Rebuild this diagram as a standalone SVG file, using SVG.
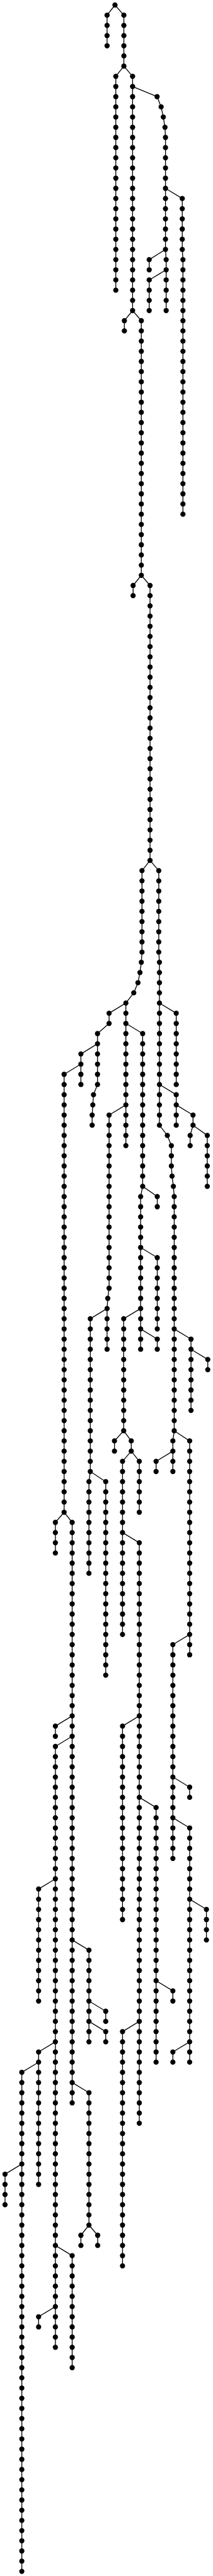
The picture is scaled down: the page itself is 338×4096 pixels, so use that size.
<svg xmlns="http://www.w3.org/2000/svg" width="338" height="4096" viewBox="0 0 338 4096">
<style>
.e path{fill:none;stroke:#000;stroke-width:5;stroke-linejoin:round}
.n{fill:#000}
</style>
<defs><circle id="d" r="15.5"/></defs>
<rect width="338" height="4096" fill="#fff"/>
<g transform="scale(0.26633) translate(0 30)">
<g id="connectors" class="e">
<path d="M685 0L638 60.8V243.2"/>
<path d="M685 0L738 60.8V364.8"/>
<path d="M738 364.8L690 425.6V1702.4"/>
<path d="M738 364.8L790 425.6V1824"/>
<path d="M790 486.4L936 547.2L960 608L973 668.8L983 729.6L986 790.4V1459.2L990 1520V1824"/>
<path d="M986 1094.4L1086 1155.2V1459.2L1090 1520V3040"/>
<path d="M986 1459.2L889 1520V1580.8"/>
<path d="M990 1580.8L889 1641.6V1824"/>
<path d="M790 1824L741 1884.8V1945.6"/>
<path d="M790 1824L842 1884.8V3404.8"/>
<path d="M842 3404.8L793 3465.6V3526.4"/>
<path d="M842 3404.8L894 3465.6V5107.2"/>
<path d="M894 5107.2L846 5168V5654.4L842 5715.2L834 5776L822 5836.8L797 5897.6L750 5958.4V6809.6"/>
<path d="M894 5107.2L946 5168V5654.4L950 5715.2V6688L997 6748.8L1021 6809.6V6931.2L1025 6992L1033 7052.8L1038 7113.6V8512L1030 8572.8V8755.2"/>
<path d="M750 5958.4L650 6019.2V6080L581 6140.8V6444.8L557 6505.6L553 6566.4L549 6627.2V6688"/>
<path d="M581 6201.6L482 6262.4V6444.8"/>
<path d="M482 6323.2L382 6384V8998.4"/>
<path d="M750 6080L850 6140.8V7052.8"/>
<path d="M850 7052.8L937 7113.6V7174.4"/>
<path d="M850 7052.8L838 7113.6V8025.6"/>
<path d="M838 7417.6L937 7478.4V7904"/>
<path d="M838 7904L937 7964.8V8025.6"/>
<path d="M950 5958.4L1050 6019.2V6444.8"/>
<path d="M950 6444.8L1050 6505.6V6688"/>
<path d="M1050 6566.4L1150 6627.2V6688"/>
<path d="M1150 6688L1133 6748.8V6809.6"/>
<path d="M1150 6688L1235 6748.8V7052.8"/>
<path d="M750 6566.4L650 6627.2V7660.8L642 7721.6L638 7782.4V8025.6"/>
<path d="M638 7782.4L538 7843.2V8755.2L530 8816V9363.2"/>
<path d="M538 8755.2L630 8816V9971.2"/>
<path d="M838 7782.4L737 7843.2V8512"/>
<path d="M737 8512L682 8572.8V8633.6"/>
<path d="M737 8512L782 8572.8V8633.6"/>
<path d="M782 8633.6L730 8694.4V9728"/>
<path d="M782 8633.6L830 8694.4V8998.4"/>
<path d="M730 9120L830 9180.8V12646.4"/>
<path d="M830 10214.4L730 10275.2V11430.4"/>
<path d="M830 10700.8L930 10761.6V12281.6"/>
<path d="M930 11795.2L1030 11856V11916.8"/>
<path d="M830 12038.4L730 12099.2V13497.6"/>
<path d="M1030 8633.6L930 8694.4V8755.2"/>
<path d="M1038 8512L1130 8572.8V9849.6"/>
<path d="M1130 9728L1030 9788.8V11065.6"/>
<path d="M1030 10579.2L1130 10640V10700.8"/>
<path d="M1030 10822.4L1130 10883.2V12281.6"/>
<path d="M1130 11308.8L1230 11369.6V11552"/>
<path d="M1130 12160L1030 12220.8V12281.6"/>
<path d="M1038 7904L1138 7964.8V8390.4"/>
<path d="M1138 8025.6L1238 8086.4V8147.2"/>
<path d="M382 8998.4L330 9059.2V9241.6"/>
<path d="M382 8998.4L430 9059.2V12524.8"/>
<path d="M430 10214.4L330 10275.2V10336"/>
<path d="M430 10336L330 10396.8V13984"/>
<path d="M330 11187.2L230 11248V11916.8"/>
<path d="M330 12160L230 12220.8V13011.2"/>
<path d="M230 12281.6L130 12342.4V15321.6"/>
<path d="M130 12889.6L30 12950.4V13132.8"/>
<path d="M330 13376L430 13436.8V14105.6"/>
<path d="M330 13740.8L230 13801.6V13862.4"/>
<path d="M430 11552L530 11612.8V12160"/>
<path d="M530 11916.8L630 11977.6V12038.4"/>
<path d="M530 12038.4L630 12099.2V12160"/>
<path d="M430 12403.2L530 12464V13254.4"/>
<path d="M530 13254.4L482 13315.2V13376"/>
<path d="M530 13254.4L582 13315.2V13376"/>
</g>
<g id="nodes" class="n">
<g id="root"><use href="#d" x="685" y="0"/></g>
<g id="c1" transform="translate(638 60.8)"><use href="#d"/><use href="#d" y="60.8"/><use href="#d" y="121.6"/><use href="#d" y="182.4"/></g>
<g id="c2" transform="translate(738 60.8)"><use href="#d"/><use href="#d" y="60.8"/><use href="#d" y="121.6"/><use href="#d" y="182.4"/><use href="#d" y="243.2"/><use href="#d" y="304"/></g>
<g id="c3" transform="translate(690 425.6)"><use href="#d"/><use href="#d" y="60.8"/><use href="#d" y="121.6"/><use href="#d" y="182.4"/><use href="#d" y="243.2"/><use href="#d" y="304"/><use href="#d" y="364.8"/><use href="#d" y="425.6"/><use href="#d" y="486.4"/><use href="#d" y="547.2"/><use href="#d" y="608"/><use href="#d" y="668.8"/><use href="#d" y="729.6"/><use href="#d" y="790.4"/><use href="#d" y="851.2"/><use href="#d" y="912"/><use href="#d" y="972.8"/><use href="#d" y="1033.6"/><use href="#d" y="1094.4"/><use href="#d" y="1155.2"/><use href="#d" y="1216"/><use href="#d" y="1276.8"/></g>
<g id="c4" transform="translate(790 425.6)"><use href="#d"/><use href="#d" y="60.8"/><use href="#d" y="121.6"/><use href="#d" y="182.4"/><use href="#d" y="243.2"/><use href="#d" y="304"/><use href="#d" y="364.8"/><use href="#d" y="425.6"/><use href="#d" y="486.4"/><use href="#d" y="547.2"/><use href="#d" y="608"/><use href="#d" y="668.8"/><use href="#d" y="729.6"/><use href="#d" y="790.4"/><use href="#d" y="851.2"/><use href="#d" y="912"/><use href="#d" y="972.8"/><use href="#d" y="1033.6"/><use href="#d" y="1094.4"/><use href="#d" y="1155.2"/><use href="#d" y="1216"/><use href="#d" y="1276.8"/><use href="#d" y="1337.6"/><use href="#d" y="1398.4"/></g>
<g id="c5"><use href="#d" x="936" y="547.2"/><use href="#d" x="960" y="608"/><use href="#d" x="973" y="668.8"/><use href="#d" x="983" y="729.6"/>
<g transform="translate(986 790.4)"><use href="#d"/><use href="#d" y="60.8"/><use href="#d" y="121.6"/><use href="#d" y="182.4"/><use href="#d" y="243.2"/><use href="#d" y="304"/><use href="#d" y="364.8"/><use href="#d" y="425.6"/><use href="#d" y="486.4"/><use href="#d" y="547.2"/><use href="#d" y="608"/><use href="#d" y="668.8"/></g>
<g transform="translate(990 1520)"><use href="#d"/><use href="#d" y="60.8"/><use href="#d" y="121.6"/><use href="#d" y="182.4"/><use href="#d" y="243.2"/><use href="#d" y="304"/></g></g>
<g id="c6"><g transform="translate(1086 1155.2)"><use href="#d"/><use href="#d" y="60.8"/><use href="#d" y="121.6"/><use href="#d" y="182.4"/><use href="#d" y="243.2"/><use href="#d" y="304"/></g>
<g transform="translate(1090 1520)"><use href="#d"/><use href="#d" y="60.8"/><use href="#d" y="121.6"/><use href="#d" y="182.4"/><use href="#d" y="243.2"/><use href="#d" y="304"/><use href="#d" y="364.8"/><use href="#d" y="425.6"/><use href="#d" y="486.4"/><use href="#d" y="547.2"/><use href="#d" y="608"/><use href="#d" y="668.8"/><use href="#d" y="729.6"/><use href="#d" y="790.4"/><use href="#d" y="851.2"/><use href="#d" y="912"/><use href="#d" y="972.8"/><use href="#d" y="1033.6"/><use href="#d" y="1094.4"/><use href="#d" y="1155.2"/><use href="#d" y="1216"/><use href="#d" y="1276.8"/><use href="#d" y="1337.6"/><use href="#d" y="1398.4"/><use href="#d" y="1459.2"/><use href="#d" y="1520"/></g></g>
<g id="c7" transform="translate(889 1520)"><use href="#d"/><use href="#d" y="60.8"/></g>
<g id="c8" transform="translate(889 1641.6)"><use href="#d"/><use href="#d" y="60.8"/><use href="#d" y="121.6"/><use href="#d" y="182.4"/></g>
<g id="c9" transform="translate(741 1884.8)"><use href="#d"/><use href="#d" y="60.8"/></g>
<g id="c10" transform="translate(842 1884.8)"><use href="#d"/><use href="#d" y="60.8"/><use href="#d" y="121.6"/><use href="#d" y="182.4"/><use href="#d" y="243.2"/><use href="#d" y="304"/><use href="#d" y="364.8"/><use href="#d" y="425.6"/><use href="#d" y="486.4"/><use href="#d" y="547.2"/><use href="#d" y="608"/><use href="#d" y="668.8"/><use href="#d" y="729.6"/><use href="#d" y="790.4"/><use href="#d" y="851.2"/><use href="#d" y="912"/><use href="#d" y="972.8"/><use href="#d" y="1033.6"/><use href="#d" y="1094.4"/><use href="#d" y="1155.2"/><use href="#d" y="1216"/><use href="#d" y="1276.8"/><use href="#d" y="1337.6"/><use href="#d" y="1398.4"/><use href="#d" y="1459.2"/><use href="#d" y="1520"/></g>
<g id="c11" transform="translate(793 3465.6)"><use href="#d"/><use href="#d" y="60.8"/></g>
<g id="c12" transform="translate(894 3465.6)"><use href="#d"/><use href="#d" y="60.8"/><use href="#d" y="121.6"/><use href="#d" y="182.4"/><use href="#d" y="243.2"/><use href="#d" y="304"/><use href="#d" y="364.8"/><use href="#d" y="425.6"/><use href="#d" y="486.4"/><use href="#d" y="547.2"/><use href="#d" y="608"/><use href="#d" y="668.8"/><use href="#d" y="729.6"/><use href="#d" y="790.4"/><use href="#d" y="851.2"/><use href="#d" y="912"/><use href="#d" y="972.8"/><use href="#d" y="1033.6"/><use href="#d" y="1094.4"/><use href="#d" y="1155.2"/><use href="#d" y="1216"/><use href="#d" y="1276.8"/><use href="#d" y="1337.6"/><use href="#d" y="1398.4"/><use href="#d" y="1459.2"/><use href="#d" y="1520"/><use href="#d" y="1580.8"/><use href="#d" y="1641.6"/></g>
<g id="c13"><g transform="translate(846 5168)"><use href="#d"/><use href="#d" y="60.8"/><use href="#d" y="121.6"/><use href="#d" y="182.4"/><use href="#d" y="243.2"/><use href="#d" y="304"/><use href="#d" y="364.8"/><use href="#d" y="425.6"/><use href="#d" y="486.4"/></g>
<use href="#d" x="842" y="5715.2"/><use href="#d" x="834" y="5776"/><use href="#d" x="822" y="5836.8"/><use href="#d" x="797" y="5897.6"/>
<g transform="translate(750 5958.4)"><use href="#d"/><use href="#d" y="60.8"/><use href="#d" y="121.6"/><use href="#d" y="182.4"/><use href="#d" y="243.2"/><use href="#d" y="304"/><use href="#d" y="364.8"/><use href="#d" y="425.6"/><use href="#d" y="486.4"/><use href="#d" y="547.2"/><use href="#d" y="608"/><use href="#d" y="668.8"/><use href="#d" y="729.6"/><use href="#d" y="790.4"/><use href="#d" y="851.2"/></g></g>
<g id="c22"><g transform="translate(946 5168)"><use href="#d"/><use href="#d" y="60.8"/><use href="#d" y="121.6"/><use href="#d" y="182.4"/><use href="#d" y="243.2"/><use href="#d" y="304"/><use href="#d" y="364.8"/><use href="#d" y="425.6"/><use href="#d" y="486.4"/></g>
<g transform="translate(950 5715.2)"><use href="#d"/><use href="#d" y="60.8"/><use href="#d" y="121.6"/><use href="#d" y="182.4"/><use href="#d" y="243.2"/><use href="#d" y="304"/><use href="#d" y="364.8"/><use href="#d" y="425.6"/><use href="#d" y="486.4"/><use href="#d" y="547.2"/><use href="#d" y="608"/><use href="#d" y="668.8"/><use href="#d" y="729.6"/><use href="#d" y="790.4"/><use href="#d" y="851.2"/><use href="#d" y="912"/><use href="#d" y="972.8"/></g>
<use href="#d" x="997" y="6748.8"/><use href="#d" x="1021" y="6809.6"/><use href="#d" x="1021" y="6870.4"/><use href="#d" x="1021" y="6931.2"/><use href="#d" x="1025" y="6992"/><use href="#d" x="1033" y="7052.8"/>
<g transform="translate(1038 7113.6)"><use href="#d"/><use href="#d" y="60.8"/><use href="#d" y="121.6"/><use href="#d" y="182.4"/><use href="#d" y="243.2"/><use href="#d" y="304"/><use href="#d" y="364.8"/><use href="#d" y="425.6"/><use href="#d" y="486.4"/><use href="#d" y="547.2"/><use href="#d" y="608"/><use href="#d" y="668.8"/><use href="#d" y="729.6"/><use href="#d" y="790.4"/><use href="#d" y="851.2"/><use href="#d" y="912"/><use href="#d" y="972.8"/><use href="#d" y="1033.6"/><use href="#d" y="1094.4"/><use href="#d" y="1155.2"/><use href="#d" y="1216"/><use href="#d" y="1276.8"/><use href="#d" y="1337.6"/><use href="#d" y="1398.4"/></g>
<g transform="translate(1030 8572.8)"><use href="#d"/><use href="#d" y="60.8"/><use href="#d" y="121.6"/><use href="#d" y="182.4"/></g></g>
<g id="c14"><use href="#d" x="650" y="6019.2"/><use href="#d" x="650" y="6080"/>
<g transform="translate(581 6140.8)"><use href="#d"/><use href="#d" y="60.8"/><use href="#d" y="121.6"/><use href="#d" y="182.4"/><use href="#d" y="243.2"/><use href="#d" y="304"/></g>
<use href="#d" x="557" y="6505.6"/><use href="#d" x="553" y="6566.4"/><use href="#d" x="549" y="6627.2"/><use href="#d" x="549" y="6688"/></g>
<g id="c15" transform="translate(482 6262.4)"><use href="#d"/><use href="#d" y="60.8"/><use href="#d" y="121.6"/><use href="#d" y="182.4"/></g>
<g id="c16" transform="translate(382 6384)"><use href="#d"/><use href="#d" y="60.8"/><use href="#d" y="121.6"/><use href="#d" y="182.4"/><use href="#d" y="243.2"/><use href="#d" y="304"/><use href="#d" y="364.8"/><use href="#d" y="425.6"/><use href="#d" y="486.4"/><use href="#d" y="547.2"/><use href="#d" y="608"/><use href="#d" y="668.8"/><use href="#d" y="729.6"/><use href="#d" y="790.4"/><use href="#d" y="851.2"/><use href="#d" y="912"/><use href="#d" y="972.8"/><use href="#d" y="1033.6"/><use href="#d" y="1094.4"/><use href="#d" y="1155.2"/><use href="#d" y="1216"/><use href="#d" y="1276.8"/><use href="#d" y="1337.6"/><use href="#d" y="1398.4"/><use href="#d" y="1459.2"/><use href="#d" y="1520"/><use href="#d" y="1580.8"/><use href="#d" y="1641.6"/><use href="#d" y="1702.4"/><use href="#d" y="1763.2"/><use href="#d" y="1824"/><use href="#d" y="1884.8"/><use href="#d" y="1945.6"/><use href="#d" y="2006.4"/><use href="#d" y="2067.2"/><use href="#d" y="2128"/><use href="#d" y="2188.8"/><use href="#d" y="2249.6"/><use href="#d" y="2310.4"/><use href="#d" y="2371.2"/><use href="#d" y="2432"/><use href="#d" y="2492.8"/><use href="#d" y="2553.6"/><use href="#d" y="2614.4"/></g>
<g id="c17" transform="translate(850 6140.8)"><use href="#d"/><use href="#d" y="60.8"/><use href="#d" y="121.6"/><use href="#d" y="182.4"/><use href="#d" y="243.2"/><use href="#d" y="304"/><use href="#d" y="364.8"/><use href="#d" y="425.6"/><use href="#d" y="486.4"/><use href="#d" y="547.2"/><use href="#d" y="608"/><use href="#d" y="668.8"/><use href="#d" y="729.6"/><use href="#d" y="790.4"/><use href="#d" y="851.2"/><use href="#d" y="912"/></g>
<g id="c18" transform="translate(937 7113.6)"><use href="#d"/><use href="#d" y="60.8"/></g>
<g id="c19" transform="translate(838 7113.6)"><use href="#d"/><use href="#d" y="60.8"/><use href="#d" y="121.6"/><use href="#d" y="182.4"/><use href="#d" y="243.2"/><use href="#d" y="304"/><use href="#d" y="364.8"/><use href="#d" y="425.6"/><use href="#d" y="486.4"/><use href="#d" y="547.2"/><use href="#d" y="608"/><use href="#d" y="668.8"/><use href="#d" y="729.6"/><use href="#d" y="790.4"/><use href="#d" y="851.2"/><use href="#d" y="912"/></g>
<g id="c20" transform="translate(937 7478.4)"><use href="#d"/><use href="#d" y="60.8"/><use href="#d" y="121.6"/><use href="#d" y="182.4"/><use href="#d" y="243.2"/><use href="#d" y="304"/><use href="#d" y="364.8"/><use href="#d" y="425.6"/></g>
<g id="c21" transform="translate(937 7964.8)"><use href="#d"/><use href="#d" y="60.8"/></g>
<g id="c23" transform="translate(1050 6019.2)"><use href="#d"/><use href="#d" y="60.8"/><use href="#d" y="121.6"/><use href="#d" y="182.4"/><use href="#d" y="243.2"/><use href="#d" y="304"/><use href="#d" y="364.8"/><use href="#d" y="425.6"/></g>
<g id="c24" transform="translate(1050 6505.6)"><use href="#d"/><use href="#d" y="60.8"/><use href="#d" y="121.6"/><use href="#d" y="182.4"/></g>
<g id="c25" transform="translate(1150 6627.2)"><use href="#d"/><use href="#d" y="60.8"/></g>
<g id="c26" transform="translate(1133 6748.8)"><use href="#d"/><use href="#d" y="60.8"/></g>
<g id="c27" transform="translate(1235 6748.8)"><use href="#d"/><use href="#d" y="60.8"/><use href="#d" y="121.6"/><use href="#d" y="182.4"/><use href="#d" y="243.2"/><use href="#d" y="304"/></g>
<g id="c28"><g transform="translate(650 6627.2)"><use href="#d"/><use href="#d" y="60.8"/><use href="#d" y="121.6"/><use href="#d" y="182.4"/><use href="#d" y="243.2"/><use href="#d" y="304"/><use href="#d" y="364.8"/><use href="#d" y="425.6"/><use href="#d" y="486.4"/><use href="#d" y="547.2"/><use href="#d" y="608"/><use href="#d" y="668.8"/><use href="#d" y="729.6"/><use href="#d" y="790.4"/><use href="#d" y="851.2"/><use href="#d" y="912"/><use href="#d" y="972.8"/><use href="#d" y="1033.6"/></g>
<use href="#d" x="642" y="7721.6"/>
<g transform="translate(638 7782.4)"><use href="#d"/><use href="#d" y="60.8"/><use href="#d" y="121.6"/><use href="#d" y="182.4"/><use href="#d" y="243.2"/></g></g>
<g id="c29"><g transform="translate(538 7843.2)"><use href="#d"/><use href="#d" y="60.8"/><use href="#d" y="121.6"/><use href="#d" y="182.4"/><use href="#d" y="243.2"/><use href="#d" y="304"/><use href="#d" y="364.8"/><use href="#d" y="425.6"/><use href="#d" y="486.4"/><use href="#d" y="547.2"/><use href="#d" y="608"/><use href="#d" y="668.8"/><use href="#d" y="729.6"/><use href="#d" y="790.4"/><use href="#d" y="851.2"/><use href="#d" y="912"/></g>
<g transform="translate(530 8816)"><use href="#d"/><use href="#d" y="60.8"/><use href="#d" y="121.6"/><use href="#d" y="182.4"/><use href="#d" y="243.2"/><use href="#d" y="304"/><use href="#d" y="364.8"/><use href="#d" y="425.6"/><use href="#d" y="486.4"/><use href="#d" y="547.2"/></g></g>
<g id="c30" transform="translate(630 8816)"><use href="#d"/><use href="#d" y="60.8"/><use href="#d" y="121.6"/><use href="#d" y="182.4"/><use href="#d" y="243.2"/><use href="#d" y="304"/><use href="#d" y="364.8"/><use href="#d" y="425.6"/><use href="#d" y="486.4"/><use href="#d" y="547.2"/><use href="#d" y="608"/><use href="#d" y="668.8"/><use href="#d" y="729.6"/><use href="#d" y="790.4"/><use href="#d" y="851.2"/><use href="#d" y="912"/><use href="#d" y="972.8"/><use href="#d" y="1033.6"/><use href="#d" y="1094.4"/><use href="#d" y="1155.2"/></g>
<g id="c31" transform="translate(737 7843.2)"><use href="#d"/><use href="#d" y="60.8"/><use href="#d" y="121.6"/><use href="#d" y="182.4"/><use href="#d" y="243.2"/><use href="#d" y="304"/><use href="#d" y="364.8"/><use href="#d" y="425.6"/><use href="#d" y="486.4"/><use href="#d" y="547.2"/><use href="#d" y="608"/><use href="#d" y="668.8"/></g>
<g id="c32" transform="translate(682 8572.8)"><use href="#d"/><use href="#d" y="60.8"/></g>
<g id="c33" transform="translate(782 8572.8)"><use href="#d"/><use href="#d" y="60.8"/></g>
<g id="c34" transform="translate(730 8694.4)"><use href="#d"/><use href="#d" y="60.8"/><use href="#d" y="121.6"/><use href="#d" y="182.4"/><use href="#d" y="243.2"/><use href="#d" y="304"/><use href="#d" y="364.8"/><use href="#d" y="425.6"/><use href="#d" y="486.4"/><use href="#d" y="547.2"/><use href="#d" y="608"/><use href="#d" y="668.8"/><use href="#d" y="729.6"/><use href="#d" y="790.4"/><use href="#d" y="851.2"/><use href="#d" y="912"/><use href="#d" y="972.8"/><use href="#d" y="1033.6"/></g>
<g id="c35" transform="translate(830 8694.4)"><use href="#d"/><use href="#d" y="60.8"/><use href="#d" y="121.6"/><use href="#d" y="182.4"/><use href="#d" y="243.2"/><use href="#d" y="304"/></g>
<g id="c36" transform="translate(830 9180.8)"><use href="#d"/><use href="#d" y="60.8"/><use href="#d" y="121.6"/><use href="#d" y="182.4"/><use href="#d" y="243.2"/><use href="#d" y="304"/><use href="#d" y="364.8"/><use href="#d" y="425.6"/><use href="#d" y="486.4"/><use href="#d" y="547.2"/><use href="#d" y="608"/><use href="#d" y="668.8"/><use href="#d" y="729.6"/><use href="#d" y="790.4"/><use href="#d" y="851.2"/><use href="#d" y="912"/><use href="#d" y="972.8"/><use href="#d" y="1033.6"/><use href="#d" y="1094.4"/><use href="#d" y="1155.2"/><use href="#d" y="1216"/><use href="#d" y="1276.8"/><use href="#d" y="1337.6"/><use href="#d" y="1398.4"/><use href="#d" y="1459.2"/><use href="#d" y="1520"/><use href="#d" y="1580.8"/><use href="#d" y="1641.6"/><use href="#d" y="1702.4"/><use href="#d" y="1763.2"/><use href="#d" y="1824"/><use href="#d" y="1884.8"/><use href="#d" y="1945.6"/><use href="#d" y="2006.4"/><use href="#d" y="2067.2"/><use href="#d" y="2128"/><use href="#d" y="2188.8"/><use href="#d" y="2249.6"/><use href="#d" y="2310.4"/><use href="#d" y="2371.2"/><use href="#d" y="2432"/><use href="#d" y="2492.8"/><use href="#d" y="2553.6"/><use href="#d" y="2614.4"/><use href="#d" y="2675.2"/><use href="#d" y="2736"/><use href="#d" y="2796.8"/><use href="#d" y="2857.6"/><use href="#d" y="2918.4"/><use href="#d" y="2979.2"/><use href="#d" y="3040"/><use href="#d" y="3100.8"/><use href="#d" y="3161.6"/><use href="#d" y="3222.4"/><use href="#d" y="3283.2"/><use href="#d" y="3344"/><use href="#d" y="3404.8"/><use href="#d" y="3465.6"/></g>
<g id="c37" transform="translate(730 10275.2)"><use href="#d"/><use href="#d" y="60.8"/><use href="#d" y="121.6"/><use href="#d" y="182.4"/><use href="#d" y="243.2"/><use href="#d" y="304"/><use href="#d" y="364.8"/><use href="#d" y="425.6"/><use href="#d" y="486.4"/><use href="#d" y="547.2"/><use href="#d" y="608"/><use href="#d" y="668.8"/><use href="#d" y="729.6"/><use href="#d" y="790.4"/><use href="#d" y="851.2"/><use href="#d" y="912"/><use href="#d" y="972.8"/><use href="#d" y="1033.6"/><use href="#d" y="1094.4"/><use href="#d" y="1155.2"/></g>
<g id="c38" transform="translate(930 10761.6)"><use href="#d"/><use href="#d" y="60.8"/><use href="#d" y="121.6"/><use href="#d" y="182.4"/><use href="#d" y="243.2"/><use href="#d" y="304"/><use href="#d" y="364.8"/><use href="#d" y="425.6"/><use href="#d" y="486.4"/><use href="#d" y="547.2"/><use href="#d" y="608"/><use href="#d" y="668.8"/><use href="#d" y="729.6"/><use href="#d" y="790.4"/><use href="#d" y="851.2"/><use href="#d" y="912"/><use href="#d" y="972.8"/><use href="#d" y="1033.6"/><use href="#d" y="1094.4"/><use href="#d" y="1155.2"/><use href="#d" y="1216"/><use href="#d" y="1276.8"/><use href="#d" y="1337.6"/><use href="#d" y="1398.4"/><use href="#d" y="1459.2"/><use href="#d" y="1520"/></g>
<g id="c39" transform="translate(1030 11856)"><use href="#d"/><use href="#d" y="60.8"/></g>
<g id="c40" transform="translate(730 12099.2)"><use href="#d"/><use href="#d" y="60.8"/><use href="#d" y="121.6"/><use href="#d" y="182.4"/><use href="#d" y="243.2"/><use href="#d" y="304"/><use href="#d" y="364.8"/><use href="#d" y="425.6"/><use href="#d" y="486.4"/><use href="#d" y="547.2"/><use href="#d" y="608"/><use href="#d" y="668.8"/><use href="#d" y="729.6"/><use href="#d" y="790.4"/><use href="#d" y="851.2"/><use href="#d" y="912"/><use href="#d" y="972.8"/><use href="#d" y="1033.6"/><use href="#d" y="1094.4"/><use href="#d" y="1155.2"/><use href="#d" y="1216"/><use href="#d" y="1276.8"/><use href="#d" y="1337.6"/><use href="#d" y="1398.4"/></g>
<g id="c41" transform="translate(930 8694.4)"><use href="#d"/><use href="#d" y="60.8"/></g>
<g id="c42" transform="translate(1130 8572.8)"><use href="#d"/><use href="#d" y="60.8"/><use href="#d" y="121.6"/><use href="#d" y="182.4"/><use href="#d" y="243.2"/><use href="#d" y="304"/><use href="#d" y="364.8"/><use href="#d" y="425.6"/><use href="#d" y="486.4"/><use href="#d" y="547.2"/><use href="#d" y="608"/><use href="#d" y="668.8"/><use href="#d" y="729.6"/><use href="#d" y="790.4"/><use href="#d" y="851.2"/><use href="#d" y="912"/><use href="#d" y="972.8"/><use href="#d" y="1033.6"/><use href="#d" y="1094.4"/><use href="#d" y="1155.2"/><use href="#d" y="1216"/><use href="#d" y="1276.8"/></g>
<g id="c43" transform="translate(1030 9788.8)"><use href="#d"/><use href="#d" y="60.8"/><use href="#d" y="121.6"/><use href="#d" y="182.4"/><use href="#d" y="243.2"/><use href="#d" y="304"/><use href="#d" y="364.8"/><use href="#d" y="425.6"/><use href="#d" y="486.4"/><use href="#d" y="547.2"/><use href="#d" y="608"/><use href="#d" y="668.8"/><use href="#d" y="729.6"/><use href="#d" y="790.4"/><use href="#d" y="851.2"/><use href="#d" y="912"/><use href="#d" y="972.8"/><use href="#d" y="1033.6"/><use href="#d" y="1094.4"/><use href="#d" y="1155.2"/><use href="#d" y="1216"/><use href="#d" y="1276.8"/></g>
<g id="c44" transform="translate(1130 10640)"><use href="#d"/><use href="#d" y="60.8"/></g>
<g id="c45" transform="translate(1130 10883.2)"><use href="#d"/><use href="#d" y="60.8"/><use href="#d" y="121.6"/><use href="#d" y="182.4"/><use href="#d" y="243.2"/><use href="#d" y="304"/><use href="#d" y="364.8"/><use href="#d" y="425.6"/><use href="#d" y="486.4"/><use href="#d" y="547.2"/><use href="#d" y="608"/><use href="#d" y="668.8"/><use href="#d" y="729.6"/><use href="#d" y="790.4"/><use href="#d" y="851.2"/><use href="#d" y="912"/><use href="#d" y="972.8"/><use href="#d" y="1033.6"/><use href="#d" y="1094.4"/><use href="#d" y="1155.2"/><use href="#d" y="1216"/><use href="#d" y="1276.8"/><use href="#d" y="1337.6"/><use href="#d" y="1398.4"/></g>
<g id="c46" transform="translate(1230 11369.6)"><use href="#d"/><use href="#d" y="60.8"/><use href="#d" y="121.6"/><use href="#d" y="182.4"/></g>
<g id="c47" transform="translate(1030 12220.8)"><use href="#d"/><use href="#d" y="60.8"/></g>
<g id="c48" transform="translate(1138 7964.8)"><use href="#d"/><use href="#d" y="60.8"/><use href="#d" y="121.6"/><use href="#d" y="182.4"/><use href="#d" y="243.2"/><use href="#d" y="304"/><use href="#d" y="364.8"/><use href="#d" y="425.6"/></g>
<g id="c49" transform="translate(1238 8086.4)"><use href="#d"/><use href="#d" y="60.8"/></g>
<g id="c50" transform="translate(330 9059.2)"><use href="#d"/><use href="#d" y="60.8"/><use href="#d" y="121.6"/><use href="#d" y="182.4"/></g>
<g id="c51" transform="translate(430 9059.2)"><use href="#d"/><use href="#d" y="60.8"/><use href="#d" y="121.6"/><use href="#d" y="182.4"/><use href="#d" y="243.2"/><use href="#d" y="304"/><use href="#d" y="364.8"/><use href="#d" y="425.6"/><use href="#d" y="486.4"/><use href="#d" y="547.2"/><use href="#d" y="608"/><use href="#d" y="668.8"/><use href="#d" y="729.6"/><use href="#d" y="790.4"/><use href="#d" y="851.2"/><use href="#d" y="912"/><use href="#d" y="972.8"/><use href="#d" y="1033.6"/><use href="#d" y="1094.4"/><use href="#d" y="1155.2"/><use href="#d" y="1216"/><use href="#d" y="1276.8"/><use href="#d" y="1337.6"/><use href="#d" y="1398.4"/><use href="#d" y="1459.2"/><use href="#d" y="1520"/><use href="#d" y="1580.8"/><use href="#d" y="1641.6"/><use href="#d" y="1702.4"/><use href="#d" y="1763.2"/><use href="#d" y="1824"/><use href="#d" y="1884.8"/><use href="#d" y="1945.6"/><use href="#d" y="2006.4"/><use href="#d" y="2067.2"/><use href="#d" y="2128"/><use href="#d" y="2188.8"/><use href="#d" y="2249.6"/><use href="#d" y="2310.4"/><use href="#d" y="2371.2"/><use href="#d" y="2432"/><use href="#d" y="2492.8"/><use href="#d" y="2553.6"/><use href="#d" y="2614.4"/><use href="#d" y="2675.2"/><use href="#d" y="2736"/><use href="#d" y="2796.8"/><use href="#d" y="2857.6"/><use href="#d" y="2918.4"/><use href="#d" y="2979.2"/><use href="#d" y="3040"/><use href="#d" y="3100.8"/><use href="#d" y="3161.6"/><use href="#d" y="3222.4"/><use href="#d" y="3283.2"/><use href="#d" y="3344"/><use href="#d" y="3404.8"/><use href="#d" y="3465.6"/></g>
<g id="c52" transform="translate(330 10275.2)"><use href="#d"/><use href="#d" y="60.8"/></g>
<g id="c53" transform="translate(330 10396.8)"><use href="#d"/><use href="#d" y="60.8"/><use href="#d" y="121.6"/><use href="#d" y="182.4"/><use href="#d" y="243.2"/><use href="#d" y="304"/><use href="#d" y="364.8"/><use href="#d" y="425.6"/><use href="#d" y="486.4"/><use href="#d" y="547.2"/><use href="#d" y="608"/><use href="#d" y="668.8"/><use href="#d" y="729.6"/><use href="#d" y="790.4"/><use href="#d" y="851.2"/><use href="#d" y="912"/><use href="#d" y="972.8"/><use href="#d" y="1033.6"/><use href="#d" y="1094.4"/><use href="#d" y="1155.2"/><use href="#d" y="1216"/><use href="#d" y="1276.8"/><use href="#d" y="1337.6"/><use href="#d" y="1398.4"/><use href="#d" y="1459.2"/><use href="#d" y="1520"/><use href="#d" y="1580.8"/><use href="#d" y="1641.6"/><use href="#d" y="1702.4"/><use href="#d" y="1763.2"/><use href="#d" y="1824"/><use href="#d" y="1884.8"/><use href="#d" y="1945.6"/><use href="#d" y="2006.4"/><use href="#d" y="2067.2"/><use href="#d" y="2128"/><use href="#d" y="2188.8"/><use href="#d" y="2249.6"/><use href="#d" y="2310.4"/><use href="#d" y="2371.2"/><use href="#d" y="2432"/><use href="#d" y="2492.8"/><use href="#d" y="2553.6"/><use href="#d" y="2614.4"/><use href="#d" y="2675.2"/><use href="#d" y="2736"/><use href="#d" y="2796.8"/><use href="#d" y="2857.6"/><use href="#d" y="2918.4"/><use href="#d" y="2979.2"/><use href="#d" y="3040"/><use href="#d" y="3100.8"/><use href="#d" y="3161.6"/><use href="#d" y="3222.4"/><use href="#d" y="3283.2"/><use href="#d" y="3344"/><use href="#d" y="3404.8"/><use href="#d" y="3465.6"/><use href="#d" y="3526.4"/><use href="#d" y="3587.2"/></g>
<g id="c54" transform="translate(230 11248)"><use href="#d"/><use href="#d" y="60.8"/><use href="#d" y="121.6"/><use href="#d" y="182.4"/><use href="#d" y="243.2"/><use href="#d" y="304"/><use href="#d" y="364.8"/><use href="#d" y="425.6"/><use href="#d" y="486.4"/><use href="#d" y="547.2"/><use href="#d" y="608"/><use href="#d" y="668.8"/></g>
<g id="c55" transform="translate(230 12220.8)"><use href="#d"/><use href="#d" y="60.8"/><use href="#d" y="121.6"/><use href="#d" y="182.4"/><use href="#d" y="243.2"/><use href="#d" y="304"/><use href="#d" y="364.8"/><use href="#d" y="425.6"/><use href="#d" y="486.4"/><use href="#d" y="547.2"/><use href="#d" y="608"/><use href="#d" y="668.8"/><use href="#d" y="729.6"/><use href="#d" y="790.4"/></g>
<g id="c56" transform="translate(130 12342.4)"><use href="#d"/><use href="#d" y="60.8"/><use href="#d" y="121.6"/><use href="#d" y="182.4"/><use href="#d" y="243.2"/><use href="#d" y="304"/><use href="#d" y="364.8"/><use href="#d" y="425.6"/><use href="#d" y="486.4"/><use href="#d" y="547.2"/><use href="#d" y="608"/><use href="#d" y="668.8"/><use href="#d" y="729.6"/><use href="#d" y="790.4"/><use href="#d" y="851.2"/><use href="#d" y="912"/><use href="#d" y="972.8"/><use href="#d" y="1033.6"/><use href="#d" y="1094.4"/><use href="#d" y="1155.2"/><use href="#d" y="1216"/><use href="#d" y="1276.8"/><use href="#d" y="1337.6"/><use href="#d" y="1398.4"/><use href="#d" y="1459.2"/><use href="#d" y="1520"/><use href="#d" y="1580.8"/><use href="#d" y="1641.6"/><use href="#d" y="1702.4"/><use href="#d" y="1763.2"/><use href="#d" y="1824"/><use href="#d" y="1884.8"/><use href="#d" y="1945.6"/><use href="#d" y="2006.4"/><use href="#d" y="2067.2"/><use href="#d" y="2128"/><use href="#d" y="2188.8"/><use href="#d" y="2249.6"/><use href="#d" y="2310.4"/><use href="#d" y="2371.2"/><use href="#d" y="2432"/><use href="#d" y="2492.8"/><use href="#d" y="2553.6"/><use href="#d" y="2614.4"/><use href="#d" y="2675.2"/><use href="#d" y="2736"/><use href="#d" y="2796.8"/><use href="#d" y="2857.6"/><use href="#d" y="2918.4"/><use href="#d" y="2979.2"/></g>
<g id="c57" transform="translate(30 12950.4)"><use href="#d"/><use href="#d" y="60.8"/><use href="#d" y="121.6"/><use href="#d" y="182.4"/></g>
<g id="c58" transform="translate(430 13436.8)"><use href="#d"/><use href="#d" y="60.8"/><use href="#d" y="121.6"/><use href="#d" y="182.4"/><use href="#d" y="243.2"/><use href="#d" y="304"/><use href="#d" y="364.8"/><use href="#d" y="425.6"/><use href="#d" y="486.4"/><use href="#d" y="547.2"/><use href="#d" y="608"/><use href="#d" y="668.8"/></g>
<g id="c59" transform="translate(230 13801.6)"><use href="#d"/><use href="#d" y="60.8"/></g>
<g id="c60" transform="translate(530 11612.8)"><use href="#d"/><use href="#d" y="60.8"/><use href="#d" y="121.6"/><use href="#d" y="182.4"/><use href="#d" y="243.2"/><use href="#d" y="304"/><use href="#d" y="364.8"/><use href="#d" y="425.6"/><use href="#d" y="486.4"/><use href="#d" y="547.2"/></g>
<g id="c61" transform="translate(630 11977.6)"><use href="#d"/><use href="#d" y="60.8"/></g>
<g id="c62" transform="translate(630 12099.2)"><use href="#d"/><use href="#d" y="60.8"/></g>
<g id="c63" transform="translate(530 12464)"><use href="#d"/><use href="#d" y="60.8"/><use href="#d" y="121.6"/><use href="#d" y="182.4"/><use href="#d" y="243.2"/><use href="#d" y="304"/><use href="#d" y="364.8"/><use href="#d" y="425.6"/><use href="#d" y="486.4"/><use href="#d" y="547.2"/><use href="#d" y="608"/><use href="#d" y="668.8"/><use href="#d" y="729.6"/><use href="#d" y="790.4"/></g>
<g id="c64" transform="translate(482 13315.2)"><use href="#d"/><use href="#d" y="60.8"/></g>
<g id="c65" transform="translate(582 13315.2)"><use href="#d"/><use href="#d" y="60.8"/></g>
</g>
</g>
</svg>
